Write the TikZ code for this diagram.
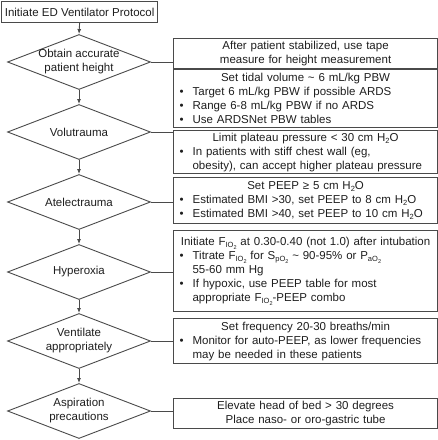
\documentclass[tikz,border=0pt]{standalone}
\usepackage{fontspec}
\setmainfont{Liberation Sans}
\usetikzlibrary{shapes.geometric,arrows.meta}
\newcommand\lo[1]{\raisebox{-2.6pt}{\fontsize{7.5}{8}\selectfont #1}}
\newcommand\llo[1]{\raisebox{-1.8pt}{\fontsize{5.5}{6}\selectfont #1}}
\newcommand\FIO{F\lo{IO\llo{2}}}
\newcommand\HtwoO{H\lo{2}O}
\newcommand\hd[1]{{\centering #1\par}}
\newcommand\bul[1]{\par\noindent\hangindent=13pt\hangafter=1\makebox[13pt][l]{\textbullet}#1\par}
\definecolor{ln}{HTML}{4A4A4A}
\definecolor{tx}{HTML}{1E1E1E}
\begin{document}
\begin{tikzpicture}[x=1pt,y=-1pt,
  every node/.style={text=tx, font=\fontsize{11.5}{14}\selectfont},
  dia/.style={shape=diamond, draw=ln, line width=0.9pt, minimum width=143pt, minimum height=55pt, inner sep=0pt},
  dtext/.style={align=center, inner sep=0pt},
  topbox/.style={draw=ln, line width=1.2pt, minimum width=156pt, minimum height=21pt, inner sep=0pt, anchor=north west},
  rbox/.style={draw=ln, line width=1.2pt, anchor=north west, minimum width=264pt, text width=252pt, inner xsep=6pt, inner ysep=0pt,
    execute at begin node={\setlength{\parindent}{0pt}\raggedright}},
  arr/.style={draw=ln, line width=0.9pt, -{Latex[length=5pt,width=4pt]}},
  con/.style={draw=ln, line width=0.9pt}
]
\useasboundingbox (0,0) rectangle (438,440);

\node[topbox] (start) at (1,1) {Initiate ED Ventilator Protocol};

\node[dia] (d1) at (79,62) {};
\node[dia] (d2) at (79,132) {};
\node[dia] (d3) at (79,202) {};
\node[dia] (d4) at (79,272) {};
\node[dia] (d5) at (79,341) {};
\node[dia] (d6) at (79,411) {};

\node[dtext] (t1) at (d1) {Obtain accurate\\patient height};
\node[dtext] (t2) at (d2) {Volutrauma};
\node[dtext] (t3) at (d3) {Atelectrauma};
\node[dtext] (t4) at (d4) {Hyperoxia};
\node[dtext] (t5) at (d5) {Ventilate\\appropriately};
\node[dtext] (t6) at (d6) {Aspiration\\precautions};

\node[rbox, minimum height=30pt] (b1) at (173,38) {\hd{After patient stabilized, use tape\\measure for height measurement}};
\node[rbox, minimum height=58pt] (b2) at (173,69) {\hd{Set tidal volume \textasciitilde{} 6 mL/kg PBW}\bul{Target 6 mL/kg PBW if possible ARDS}\bul{Range 6-8 mL/kg PBW if no ARDS}\bul{Use ARDSNet PBW tables}};
\node[rbox, minimum height=43pt] (b3) at (173,130) {\hd{Limit plateau pressure < 30 cm \HtwoO}\bul{In patients with stiff chest wall (eg,\newline obesity), can accept higher plateau pressure}};
\node[rbox, minimum height=46pt] (b4) at (173,177) {\hd{Set PEEP ≥ 5 cm \HtwoO}\bul{Estimated BMI >30, set PEEP to 8 cm \HtwoO}\bul{Estimated BMI >40, set PEEP to 10 cm \HtwoO}};
\node[rbox, minimum height=81pt] (b5) at (173,230) {\hd{Initiate \FIO{} at 0.30-0.40 (not 1.0) after intubation}\bul{Titrate \FIO{} for S\lo{pO\llo{2}} \textasciitilde{} 90-95\% or P\lo{aO\llo{2}}\newline 55-60 mm Hg}\bul{If hypoxic, use PEEP table for most\newline appropriate \FIO-PEEP combo}};
\node[rbox, minimum height=45pt] (b6) at (173,318) {\hd{Set frequency 20-30 breaths/min}\bul{Monitor for auto-PEEP, as lower frequencies\newline may be needed in these patients}};
\node[rbox, minimum height=30pt] (b7) at (173,398) {\hd{Elevate head of bed > 30 degrees\\Place naso- or oro-gastric tube}};

\draw[arr] (start.south) -- (d1.north);
\draw[arr] (d1.south) -- (d2.north);
\draw[arr] (d2.south) -- (d3.north);
\draw[arr] (d3.south) -- (d4.north);
\draw[arr] (d4.south) -- (d5.north);
\draw[arr] (d5.south) -- (d6.north);

\draw[con] (d1.east) -- (d1.east -| b1.west);
\draw[con] (d2.east) -- (d2.east -| b3.west);
\draw[con] (d3.east) -- (d3.east -| b4.west);
\draw[con] (d4.east) -- (d4.east -| b5.west);
\draw[con] (d5.east) -- (d5.east -| b6.west);
\draw[con] (d6.east) -- (d6.east -| b7.west);
\end{tikzpicture}
\end{document}
